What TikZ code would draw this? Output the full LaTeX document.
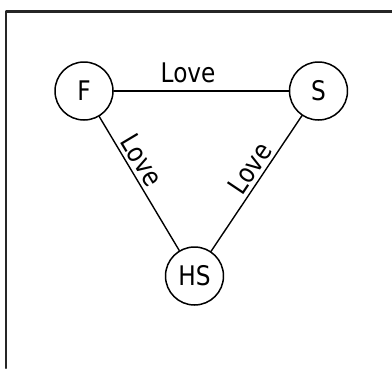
\documentclass[tikz,border=0pt]{standalone}
\usepackage{fontspec}
\setmainfont{DejaVu Sans}[FakeStretch=0.86]
\begin{document}
\begin{tikzpicture}[x=1pt, y=-1pt, font=\fontsize{27}{31}\selectfont, line join=round, line cap=round]
		\tikzset{person/.style={draw, circle, line width=1.5pt, minimum size=58pt, inner sep=0pt},
			love/.style={line width=1.4pt}}
		\useasboundingbox (0,0) rectangle (392,368);
		\draw[line width=2.4pt, black!85] (392,11.5)--(6,11.5)--(6,368);
		\node[person] (f) at (84,91) {F};
		\node[person] (s) at (318.5,91) {S};
		\node[person] (hs) at (194.5,276) {HS};
		\draw[love] (f)--(s) node[pos=0.425, above=4pt] {Love};
		\draw[love] (f)--(hs) node[pos=0.38, sloped, above] {Love};
		\draw[love] (s)--(hs) node[pos=0.445, sloped, above] {Love};
\end{tikzpicture}
\end{document}
